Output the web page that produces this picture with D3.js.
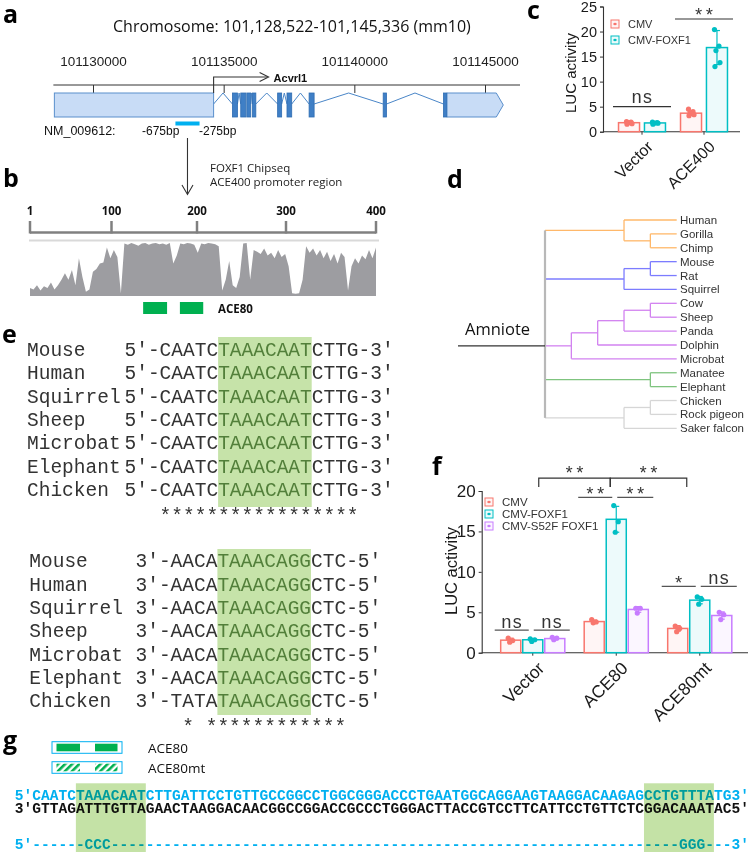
<!DOCTYPE html>
<html>
<head>
<meta charset="utf-8">
<script src="https://cdn.jsdelivr.net/npm/d3@7/dist/d3.min.js"></script>
<style>
html,body{margin:0;padding:0;background:#fff;}
svg{display:block;}
</style>
</head>
<body>
<svg id="fig" width="750" height="852"></svg>
<script>
// ================= DATA =================
// Panel a
const chromTitle = "Chromosome: 101,128,522-101,145,336 (mm10)";
const chromTicks = [101130000, 101135000, 101140000, 101145000];
const utr5 = [101128522, 101134615];
const exons = [[101135335,101135527],[101135654,101135846],[101135885,101136038],[101136104,101136231],
               [101137065,101137219],[101137423,101137604],[101138269,101138461],[101141104,101141231],
               [101143411,101143538]];
const utr3 = [101143538, 101145700];
const chipRegion = [101133154, 101134077];
const geneName = "Acvrl1";
const regionLabels = ["NM_009612:", "-675bp", "-275bp"];
const chipLabels = ["FOXF1 Chipseq", "ACE400 promoter region"];

// Panel b
const promTicks = [1, 100, 200, 300, 400];
const conservation = [0.15,0.12,0.2,0.1,0.18,0.15,0.25,0.12,0.2,0.3,
  0.42,0.3,0.48,0.2,0.7,0.35,0.08,0.12,0.45,0.5,
  0.6,0.62,0.9,0.7,0.85,0.72,0.05,0.97,0.95,0.98,
  0.96,0.93,0.97,0.98,0.95,0.97,0.98,0.96,0.97,0.95,
  0.98,0.6,0.75,0.97,0.96,0.98,0.97,0.95,0.8,0.97,
  0.96,0.98,0.97,0.96,0.92,0.1,0.3,0.65,0.2,0.15,
  0.35,0.97,0.98,0.3,0.85,0.82,0.78,0.88,0.75,0.8,
  0.7,0.85,0.72,0.78,0.55,0.05,0.04,0.05,0.3,0.92,
  0.8,0.88,0.75,0.85,0.7,0.82,0.65,0.78,0.6,0.8,
  0.72,0.1,0.55,0.7,0.6,0.75,0.68,0.85,0.7,0.9];
const ace80Blocks = [[137,165],[180,207]];

// Panel c
const cGroups = ["Vector", "ACE400"];
const cSeries = ["CMV", "CMV-FOXF1"];
const cMeans = [[1.8, 1.75], [3.7, 16.8]];
const cSD = [[0.2, 0.2], [0.45, 3.4]];
const cPoints = [[[2.0,1.9,1.8,1.6,1.5],[1.9,1.8,1.7,1.7,1.5]],
                 [[4.5,4.0,3.7,3.4,3.2],[20.4,17.1,16.2,13.8,13.0]]];
const cTicks = [0, 5, 10, 15, 20, 25];
const cSig = [{group:"Vector", label:"ns", y:5}, {group:"ACE400", label:"**", y:22.5}];

// Panel d
const treeData = {name:"Amniote", level:0, children:[
  {level:3, clade:0, children:[{name:"Human"},{level:4, children:[{name:"Gorilla"},{name:"Chimp"}]}]},
  {level:3, clade:1, children:[{level:4, children:[{name:"Mouse"},{name:"Rat"}]},{name:"Squirrel"}]},
  {level:1, clade:2, children:[{level:2, children:[{level:3, children:[{level:4, children:[{name:"Cow"},{name:"Sheep"}]},{name:"Panda"}]},{name:"Dolphin"}]},{name:"Microbat"}]},
  {level:4, clade:3, children:[{name:"Manatee"},{name:"Elephant"}]},
  {level:3, clade:4, children:[{level:4, children:[{name:"Chicken"},{name:"Rock pigeon"}]},{name:"Saker falcon"}]}
]};
const cladeColors = ["#ffb86a", "#7c7cff", "#d282f0", "#7fc47f", "#d6d6d6"];

// Panel e
const eNames = ["Mouse","Human","Squirrel","Sheep","Microbat","Elephant","Chicken"];
const eTopSeq = [["5′-CAATC","TAAACAAT","CTTG-3′"],["5′-CAATC","TAAACAAT","CTTG-3′"],["5′-CAATC","TAAACAAT","CTTG-3′"],
  ["5′-CAATC","TAAACAAT","CTTG-3′"],["5′-CAATC","TAAACAAT","CTTG-3′"],["5′-CAATC","TAAACAAT","CTTG-3′"],["5′-CAATC","TAAACAAT","CTTG-3′"]];
const eBotSeq = [["3′-AACA","TAAACAGG","CTC-5′"],["3′-AACA","TAAACAGG","CTC-5′"],["3′-AACA","TAAACAGG","CTC-5′"],
  ["3′-AACA","TAAACAGG","CTC-5′"],["3′-AACA","TAAACAGG","CTC-5′"],["3′-AACA","TAAACAGG","CTC-5′"],["3′-TATA","TAAACAGG","CTC-5′"]];
const eTopStars = "   *****************";
const eBotStars = "    * ************";

// Panel f
const fGroups = ["Vector", "ACE80", "ACE80mt"];
const fSeries = ["CMV", "CMV-FOXF1", "CMV-S52F FOXF1"];
const fMeans = [[1.55,1.6,1.75],[3.85,16.5,5.35],[3.0,6.5,4.6]];
const fSD = [[0.25,0.15,0.15],[0.2,1.6,0.35],[0.35,0.45,0.45]];
const fPoints = [[[1.8,1.5,1.3],[1.7,1.6,1.4],[1.9,1.8,1.6]],
                 [[4.1,3.8,3.7],[18.2,16.2,14.9],[5.5,5.5,4.9]],
                 [[3.3,3.0,2.6],[6.9,6.6,6.0],[5.0,4.7,4.1]]];
const fTicks = [0, 5, 10, 15, 20];
const fSigPairs = [
  {group:"Vector", a:0, b:1, label:"ns", y:2.8},
  {group:"Vector", a:1, b:2, label:"ns", y:2.8},
  {group:"ACE80", a:0, b:1, label:"**", y:19.2},
  {group:"ACE80", a:1, b:2, label:"**", y:19.2},
  {group:"ACE80mt", a:0, b:1, label:"*", y:8.2},
  {group:"ACE80mt", a:1, b:2, label:"ns", y:8.2}];
const fBrackets = [
  {from:"Vector", to:"ACE80", label:"**", y:21.6, leg:20.5},
  {from:"ACE80", to:"ACE80mt", label:"**", y:21.6, leg:20.5}];

// Panel g
const gLegend = ["ACE80", "ACE80mt"];
const gTop = "5′CAATCTAAACAATCTTGATTCCTGTTGCCGGCCTGGCGGGACCCTGAATGGCAGGAAGTAAGGACAAGAGCCTGTTTATG3′";
const gBottom = "3′GTTAGATTTGTTAGAACTAAGGACAACGGCCGGACCGCCCTGGGACTTACCGTCCTTCATTCCTGTTCTCGGACAAATAC5′";
const gMut = "5′------CCC" + "-".repeat(65) + "GGG---3′";
const gHighlights = [[7, 15], [72, 80]];

// ================= DRAW =================
const SANS = '"Liberation Sans", Arial, sans-serif';
const OPEN = '"Open Sans", sans-serif';
const MONO = '"Liberation Mono", "Courier New", monospace';
const seriesColors = ["#f8766d", "#00bfc4", "#c77cff"];

const svg = d3.select("#fig");
svg.append("rect").attr("width", 750).attr("height", 852).attr("fill", "#fff");

function label(t, x, y) {
  svg.append("text").text(t).attr("x", x).attr("y", y)
    .style("font-family", OPEN).style("font-weight", 700).style("font-size", "25px").attr("fill", "#000");
}
label("a", 3, 23); label("b", 3, 187); label("c", 527, 19); label("d", 447, 188);
label("e", 2, 343); label("f", 432, 475); label("g", 3, 749);

// ---------- Panel a ----------
const xa = d3.scaleLinear().domain([chromTicks[0], chromTicks[3]]).range([93, 485]);
const ga = svg.append("g");
ga.append("text").text(chromTitle).attr("x", 113).attr("y", 32)
  .style("font-family", OPEN).style("font-size", "16px").attr("fill", "#111");
ga.append("line").attr("x1", xa(utr5[0]) - 1).attr("x2", 520).attr("y1", 85).attr("y2", 85)
  .attr("stroke", "#333").attr("stroke-width", 1);
const axA = ga.append("g").attr("transform", "translate(0,85)")
  .call(d3.axisTop(xa).tickValues(chromTicks).tickFormat(d3.format("d")).tickSizeInner(-8).tickSizeOuter(0).tickPadding(19));
axA.select(".domain").remove();
axA.selectAll(".tick line").attr("stroke", "#333");
axA.selectAll(".tick text").style("font-family", SANS).style("font-size", "13.5px").attr("fill", "#222");

const gy0 = 93, gy1 = 117, gym = 105;
const blocks = [utr5, ...exons, utr3];
for (let i = 0; i < blocks.length - 1; i++) {
  const a = xa(blocks[i][1]), b = xa(blocks[i + 1][0]);
  if (b - a > 1.5) {
    ga.append("path").attr("d", `M${a},${gym - 1}L${(a + b) / 2},${gy0}L${b},${gym - 1}`)
      .attr("fill", "none").attr("stroke", "#4a86c8").attr("stroke-width", 1);
  }
}
ga.append("rect").attr("x", xa(utr5[0])).attr("y", gy0).attr("width", xa(utr5[1]) - xa(utr5[0])).attr("height", gy1 - gy0)
  .attr("fill", "#c8dcf6").attr("stroke", "#5a8fcc").attr("stroke-width", 1);
{
  const x0 = xa(utr3[0]), x1 = xa(utr3[1]);
  ga.append("path").attr("d", `M${x0},${gy0}H${x1 - 7}L${x1},${gym}L${x1 - 7},${gy1}H${x0}Z`)
    .attr("fill", "#c8dcf6").attr("stroke", "#5a8fcc").attr("stroke-width", 1);
}
ga.selectAll("rect.exon").data(exons).join("rect").attr("class", "exon")
  .attr("x", d => xa(d[0])).attr("y", gy0).attr("width", d => Math.max(2, xa(d[1]) - xa(d[0]))).attr("height", gy1 - gy0)
  .attr("fill", "#3f7fc6").attr("stroke", "#2f6db2").attr("stroke-width", 0.8);
{
  const tx = xa(utr5[1]);
  ga.append("path").attr("d", `M${tx},${gy0}V77H${tx + 54}`).attr("fill", "none").attr("stroke", "#333").attr("stroke-width", 1.1);
  ga.append("path").attr("d", `M${tx + 46},72.5L${tx + 55},77L${tx + 46},81.5`).attr("fill", "none").attr("stroke", "#333").attr("stroke-width", 1.1);
  ga.append("text").text(geneName).attr("x", tx + 60).attr("y", 82)
    .style("font-family", SANS).style("font-weight", 700).style("font-size", "11px").attr("fill", "#111");
}
ga.append("rect").attr("x", xa(chipRegion[0])).attr("y", 121.5).attr("width", xa(chipRegion[1]) - xa(chipRegion[0])).attr("height", 4)
  .attr("fill", "#00b0f0");
ga.append("text").text(regionLabels[0]).attr("x", 44).attr("y", 135).style("font-family", SANS).style("font-size", "12.5px").attr("fill", "#111");
ga.append("text").text(regionLabels[1]).attr("x", 142).attr("y", 135).style("font-family", SANS).style("font-size", "12px").attr("fill", "#111");
ga.append("text").text(regionLabels[2]).attr("x", 199).attr("y", 135).style("font-family", SANS).style("font-size", "12px").attr("fill", "#111");
{
  const ax = xa((chipRegion[0] + chipRegion[1]) / 2);
  ga.append("line").attr("x1", ax).attr("x2", ax).attr("y1", 138).attr("y2", 194).attr("stroke", "#333").attr("stroke-width", 1.1);
  ga.append("path").attr("d", `M${ax - 5.5},185L${ax},194.5L${ax + 5.5},185`).attr("fill", "none").attr("stroke", "#333").attr("stroke-width", 1.1);
}
ga.append("text").text(chipLabels[0]).attr("x", 210).attr("y", 172).style("font-family", OPEN).style("font-size", "11.5px").attr("fill", "#222");
ga.append("text").text(chipLabels[1]).attr("x", 210).attr("y", 186).style("font-family", OPEN).style("font-size", "11.5px").attr("fill", "#222");

// ---------- Panel b ----------
const xb = d3.scaleLinear().domain(promTicks).range([30, 111.5, 197, 286, 376]);
const gb = svg.append("g");
gb.append("line").attr("x1", xb(1)).attr("x2", xb(400)).attr("y1", 232.5).attr("y2", 232.5).attr("stroke", "#808080").attr("stroke-width", 2.5);
gb.selectAll("line.tk").data(promTicks).join("line").attr("class", "tk")
  .attr("x1", d => xb(d)).attr("x2", d => xb(d)).attr("y1", 221).attr("y2", 233.5).attr("stroke", "#808080").attr("stroke-width", 2.5);
gb.selectAll("text.tk").data(promTicks).join("text").attr("class", "tk").text(d => d)
  .attr("x", d => xb(d)).attr("y", 215).attr("text-anchor", "middle")
  .style("font-family", OPEN).style("font-weight", 700).style("font-size", "11.5px").attr("fill", "#111");
gb.append("line").attr("x1", 29).attr("x2", 379).attr("y1", 240.5).attr("y2", 240.5).attr("stroke", "#d9d9d9").attr("stroke-width", 2);
const xCons = d3.scaleLinear().domain([0, conservation.length - 1]).range([xb(1), xb(400)]);
const yCons = d3.scaleLinear().domain([0, 1]).range([296, 242]);
gb.append("path").datum(conservation)
  .attr("d", d3.area().x((d, i) => xCons(i)).y0(296).y1(d => yCons(d)).curve(d3.curveLinear))
  .attr("fill", "#9d9da1");
gb.selectAll("rect.ace").data(ace80Blocks).join("rect").attr("class", "ace")
  .attr("x", d => xb(d[0])).attr("width", d => xb(d[1]) - xb(d[0])).attr("y", 302).attr("height", 12).attr("fill", "#00b050");
gb.append("text").text("ACE80").attr("x", 218).attr("y", 313)
  .style("font-family", OPEN).style("font-weight", 700).style("font-size", "11.5px").attr("fill", "#111");

// ---------- bar panel helper ----------
function barPanel(opt) {
  const g = svg.append("g");
  const y = d3.scaleLinear().domain(opt.yDomain).range(opt.yRange);
  const x = d3.scaleBand().domain(opt.groups).range(opt.xRange);
  const xi = d3.scaleBand().domain(d3.range(opt.series.length)).range([0, x.bandwidth()])
    .paddingInner(opt.pi).paddingOuter(opt.po);
  const cx = (gi, si) => x(opt.groups[gi]) + xi(si) + xi.bandwidth() / 2;
  const ay = g.append("g").attr("transform", `translate(${opt.axisX},0)`)
    .call(d3.axisLeft(y).tickValues(opt.ticks).tickSizeOuter(0).tickSize(3).tickPadding(3));
  ay.select(".domain").attr("stroke", "#333").attr("stroke-width", 1.1);
  ay.selectAll(".tick line").attr("stroke", "#333");
  ay.selectAll(".tick text").style("font-family", SANS).style("font-size", opt.tickFont).attr("fill", "#1a1a1a");
  g.append("line").attr("x1", opt.axisX).attr("x2", opt.axisEnd).attr("y1", y(0)).attr("y2", y(0)).attr("stroke", "#333").attr("stroke-width", 1.1);
  opt.groups.forEach((gname, gi) => {
    const c = x(gname) + x.bandwidth() / 2;
    g.append("line").attr("x1", c).attr("x2", c).attr("y1", y(0)).attr("y2", y(0) + 3).attr("stroke", "#333");
    g.append("text").text(gname)
      .attr("transform", `translate(${c + 4},${y(0) + 8}) rotate(-45)`).attr("text-anchor", "end")
      .attr("dy", "0.7em")
      .style("font-family", SANS).style("font-size", opt.xFont).attr("fill", "#1a1a1a");
  });
  g.append("text").text("LUC activity")
    .attr("transform", `translate(${opt.ylabX},${opt.ylabY}) rotate(-90)`).attr("text-anchor", "middle")
    .style("font-family", SANS).style("font-size", opt.ylabFont).attr("fill", "#1a1a1a");
  opt.groups.forEach((gname, gi) => {
    opt.series.forEach((s, si) => {
      const col = seriesColors[si];
      const m = opt.means[gi][si], sd = opt.sd[gi][si];
      const bx = x(gname) + xi(si);
      g.append("rect").attr("x", bx).attr("y", y(m)).attr("width", xi.bandwidth()).attr("height", y(0) - y(m))
        .attr("fill", col).attr("fill-opacity", 0.07).attr("stroke", col).attr("stroke-width", 1.5);
      const c = cx(gi, si);
      g.append("line").attr("x1", c).attr("x2", c).attr("y1", y(m - sd)).attr("y2", y(m + sd)).attr("stroke", col).attr("stroke-width", 1.2);
      [m - sd, m + sd].forEach(v => g.append("line").attr("x1", c - 3).attr("x2", c + 3).attr("y1", y(v)).attr("y2", y(v)).attr("stroke", col).attr("stroke-width", 1.2));
      const jit = [-2.5, 2, -1, 3, -2];
      opt.points[gi][si].forEach((v, k) => g.append("circle").attr("cx", c + jit[k % jit.length]).attr("cy", y(v)).attr("r", 2.6).attr("fill", col));
    });
  });
  opt.series.forEach((s, si) => {
    const ly = opt.legY + si * opt.legStep;
    const col = seriesColors[si];
    g.append("rect").attr("x", opt.legX).attr("y", ly - 4).attr("width", 8).attr("height", 8)
      .attr("fill", col).attr("fill-opacity", 0.08).attr("stroke", col).attr("stroke-width", 1);
    g.append("line").attr("x1", opt.legX + 2).attr("x2", opt.legX + 6).attr("y1", ly).attr("y2", ly).attr("stroke", col).attr("stroke-width", 0.8);
    g.append("circle").attr("cx", opt.legX + 4).attr("cy", ly).attr("r", 1.3).attr("fill", col);
    g.append("text").text(s).attr("x", opt.legX + 17).attr("y", ly + 4)
      .style("font-family", SANS).style("font-size", opt.legFont).attr("fill", "#333");
  });
  return {g, x, y, cx};
}

// ---------- Panel c ----------
const pc = barPanel({groups: cGroups, series: cSeries, means: cMeans, sd: cSD, points: cPoints, ticks: cTicks,
  yDomain: [0, 25], yRange: [131.7, 6.5], xRange: [611, 735], pi: 0.19, po: 0.29,
  axisX: 603, axisEnd: 740, tickFont: "14.5px", xFont: "16px", ylabX: 576, ylabY: 73, ylabFont: "15px",
  legX: 611, legY: 24, legStep: 16, legFont: "11px"});
cSig.forEach(s => {
  const x0 = pc.x(s.group), x1 = x0 + pc.x.bandwidth();
  const ly = pc.y(s.y);
  pc.g.append("line").attr("x1", x0 + 2).attr("x2", x1 - 2).attr("y1", ly).attr("y2", ly).attr("stroke", "#333").attr("stroke-width", 1.2);
  pc.g.append("text").text(s.label).attr("x", (x0 + x1) / 2).attr("y", s.label === "ns" ? ly - 4 : ly + 2).attr("text-anchor", "middle")
    .style("font-family", MONO).style("font-size", "18px").attr("fill", "#333");
});

// ---------- Panel d ----------
const root = d3.hierarchy(treeData);
const leaves = root.leaves();
const yLeaf = d3.scalePoint().domain(leaves.map(d => d.data.name)).range([220, 428.3]);
const xd = d3.scaleLinear().domain([0, 5]).range([545, 676.7]);
root.eachAfter(n => {
  if (!n.children) { n.py = yLeaf(n.data.name); n.px = xd(5); }
  else { n.py = d3.median(n.children, c => c.py); n.px = xd(n.data.level); }
});
root.each(n => { n.clade = n.depth === 1 ? n.data.clade : (n.parent ? n.parent.clade : null); });
const gd = svg.append("g");
root.descendants().forEach(n => {
  if (n.parent) {
    gd.append("line").attr("x1", n.parent.px).attr("x2", n.px).attr("y1", n.py).attr("y2", n.py)
      .attr("stroke", cladeColors[n.clade]).attr("stroke-width", 1.3);
  }
  if (n.children && n.parent) {
    gd.append("line").attr("x1", n.px).attr("x2", n.px)
      .attr("y1", n.children[0].py).attr("y2", n.children[n.children.length - 1].py)
      .attr("stroke", cladeColors[n.clade]).attr("stroke-width", 1.3);
  }
});
gd.append("line").attr("x1", root.px).attr("x2", root.px)
  .attr("y1", root.children[0].py).attr("y2", root.children[root.children.length - 1].py)
  .attr("stroke", "#b8b8b8").attr("stroke-width", 2.2);
gd.append("line").attr("x1", 458).attr("x2", root.px).attr("y1", root.py).attr("y2", root.py).attr("stroke", "#333").attr("stroke-width", 1.2);
gd.append("text").text(treeData.name).attr("x", 465).attr("y", 334.5)
  .style("font-family", OPEN).style("font-size", "16.5px").attr("fill", "#111");
gd.selectAll("text.leaf").data(leaves).join("text").attr("class", "leaf").text(d => d.data.name)
  .attr("x", 680).attr("y", d => d.py + 4)
  .style("font-family", SANS).style("font-size", "11.5px").attr("fill", "#333");

// ---------- Panel e ----------
const ge = svg.append("g");
const eFs = 19.5, eCw = eFs * 0.6;
function seqBlock(names, seqs, nameX, seqX, y0, y1, hlTop, hlBot, stars, starY) {
  const yr = d3.scalePoint().domain(d3.range(names.length)).range([y0, y1]);
  const hx = seqX + seqs[0][0].length * eCw;
  ge.append("rect").attr("x", hx).attr("y", hlTop).attr("width", seqs[0][1].length * eCw).attr("height", hlBot - hlTop).attr("fill", "#c6e3a9");
  names.forEach((n, i) => {
    ge.append("text").text(n).attr("x", nameX).attr("y", yr(i))
      .style("font-family", MONO).style("font-size", eFs + "px").attr("fill", "#333");
    const t = ge.append("text").attr("x", seqX).attr("y", yr(i))
      .style("font-family", MONO).style("font-size", eFs + "px").attr("fill", "#333");
    t.append("tspan").text(seqs[i][0]);
    t.append("tspan").text(seqs[i][1]).attr("fill", "#527f3a");
    t.append("tspan").text(seqs[i][2]);
  });
  ge.append("text").text(stars).attr("x", seqX).attr("y", starY).style("white-space", "pre")
    .style("font-family", MONO).style("font-size", eFs + "px").attr("fill", "#333");
}
seqBlock(eNames, eTopSeq, 27, 124.5, 356, 496, 337, 507, eTopStars, 522);
seqBlock(eNames, eBotSeq, 29.3, 135.5, 567.3, 707.3, 549, 715, eBotStars, 733);

// ---------- Panel f ----------
const pf = barPanel({groups: fGroups, series: fSeries, means: fMeans, sd: fSD, points: fPoints, ticks: fTicks,
  yDomain: [0, 20], yRange: [652.7, 491], xRange: [491, 741.5], pi: 0.09, po: 0.44,
  axisX: 481.7, axisEnd: 748, tickFont: "17px", xFont: "17.5px", ylabX: 457, ylabY: 571, ylabFont: "16.5px",
  legX: 485, legY: 502, legStep: 12, legFont: "11.5px"});
fSigPairs.forEach(s => {
  const gi = fGroups.indexOf(s.group);
  const ca = pf.cx(gi, s.a), cb = pf.cx(gi, s.b);
  const x1 = s.a === 0 ? ca - 16 : ca + 1, x2 = s.a === 0 ? cb - 4 : cb + 15;
  const ly = pf.y(s.y);
  pf.g.append("line").attr("x1", x1).attr("x2", x2).attr("y1", ly).attr("y2", ly).attr("stroke", "#555").attr("stroke-width", 1.3);
  pf.g.append("text").text(s.label).attr("x", (x1 + x2) / 2).attr("y", s.label === "ns" ? ly - 2 : ly + 3).attr("text-anchor", "middle")
    .style("font-family", MONO).style("font-size", "18px").attr("fill", "#333");
});
fBrackets.forEach((b, i) => {
  const xA = pf.cx(fGroups.indexOf(b.from), 1) + (i === 0 ? 6 : -6);
  const xB = pf.cx(fGroups.indexOf(b.to), 1) - (i === 0 ? 6 : 13);
  const ly = pf.y(b.y), lg = pf.y(b.leg);
  pf.g.append("path").attr("d", `M${xA},${lg}V${ly}H${xB}V${lg}`).attr("fill", "none").attr("stroke", "#333").attr("stroke-width", 1.2);
  pf.g.append("text").text(b.label).attr("x", (xA + xB) / 2).attr("y", ly + 1).attr("text-anchor", "middle")
    .style("font-family", MONO).style("font-size", "18px").attr("fill", "#333");
});

// ---------- Panel g ----------
const gg = svg.append("g");
const defs = svg.append("defs");
const pat = defs.append("pattern").attr("id", "hatch").attr("patternUnits", "userSpaceOnUse")
  .attr("width", 5).attr("height", 5).attr("patternTransform", "rotate(45)");
pat.append("rect").attr("width", 5).attr("height", 5).attr("fill", "#fff");
pat.append("rect").attr("width", 2.6).attr("height", 5).attr("fill", "#00b050");
gLegend.forEach((name, i) => {
  const y0 = 741.7 + i * 20;
  gg.append("rect").attr("x", 52).attr("y", y0).attr("width", 70).attr("height", 11.6).attr("fill", "#fff").attr("stroke", "#00b0f0").attr("stroke-width", 1);
  [[56.5, 80], [95, 117.5]].forEach(r => gg.append("rect").attr("x", r[0]).attr("y", y0 + 2).attr("width", r[1] - r[0]).attr("height", 7.6)
    .attr("fill", i === 0 ? "#00b050" : "url(#hatch)"));
  gg.append("text").text(name).attr("x", 148).attr("y", y0 + 11)
    .style("font-family", OPEN).style("font-size", "13.5px").attr("fill", "#111");
});
const gCw = 8.74, gFs = gCw / 0.6, gX0 = 14.7;
[[gTop, 800, "#00b0f0"], [gBottom, 813, "#111"], [gMut, 849, "#00b0f0"]].forEach(([s, yy, col]) => {
  gg.append("text").text(s).attr("x", gX0).attr("y", yy).attr("textLength", s.length * gCw).attr("lengthAdjust", "spacing")
    .style("font-family", MONO).style("font-weight", 700).style("font-size", gFs + "px").attr("fill", col);
});
gHighlights.forEach(h => {
  gg.append("rect").attr("x", gX0 + h[0] * gCw).attr("y", 783.3).attr("width", (h[1] - h[0]) * gCw).attr("height", 70)
    .attr("fill", "#c4e2a6").style("mix-blend-mode", "multiply");
});
</script>
</body>
</html>
